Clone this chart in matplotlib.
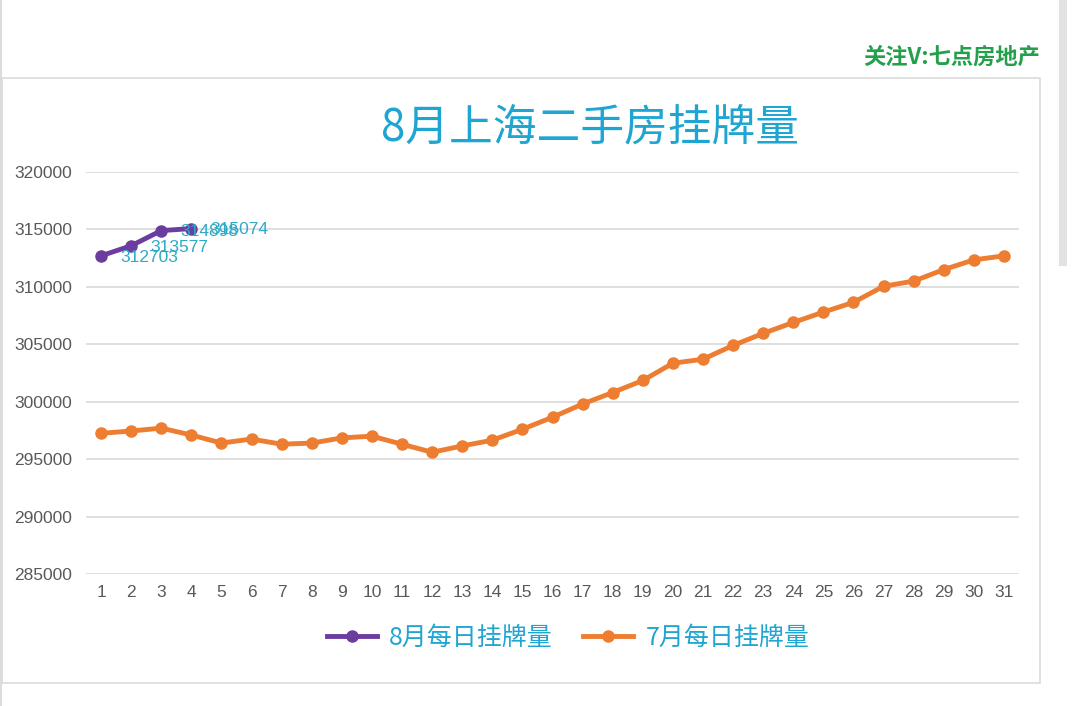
import numpy as np
import matplotlib
matplotlib.use("Agg")
import matplotlib.pyplot as plt
from matplotlib.lines import Line2D
from matplotlib.patches import Rectangle

plt.rcParams["font.family"] = ["Liberation Sans", "Noto Sans CJK SC", "DejaVu Sans"]

# ---------------------------------------------------------------------------
# Data
# ---------------------------------------------------------------------------
days_aug = [1, 2, 3, 4]
listings_aug = [312703, 313577, 314898, 315074]

days_jul = list(range(1, 32))
listings_jul = [
    297250, 297450, 297700, 297100, 296400, 296750, 296300, 296400, 296850, 297000,
    296300, 295600, 296150, 296650, 297600, 298650, 299800, 300800, 301850, 303350,
    303700, 304900, 305950, 306900, 307800, 308650, 310050, 310500, 311500, 312350,
    312700,
]

y_ticks = [285000, 290000, 295000, 300000, 305000, 310000, 315000, 320000]

title = "8月上海二手房挂牌量"
label_aug = "8月每日挂牌量"
label_jul = "7月每日挂牌量"
watermark = "关注V:七点房地产"

PURPLE = "#6a3d9e"
ORANGE = "#ed7d31"
CYAN = "#1ea5d2"
LABEL_CYAN = "#2eaac6"
GRID = "#d9d9d9"
TICK = "#595959"
CJK = ["Noto Sans CJK SC", "DejaVu Sans"]

W, H = 1080, 706
fig = plt.figure(figsize=(W / 100, H / 100), dpi=100)
fig.patch.set_facecolor("white")

# page chrome: chart frame, left page edge and scrollbar
fig.add_artist(Rectangle((2 / W, 1 - 683 / H), 1038 / W, 605 / H,
                         transform=fig.transFigure, facecolor="none",
                         edgecolor="#dcdcdc", linewidth=1.2))
fig.add_artist(Line2D([1 / W, 1 / W], [0, 1], transform=fig.transFigure,
                      color="#dcdcdc", linewidth=1.5))
fig.add_artist(Rectangle((1059 / W, 1 - 266 / H), 8 / W, 266 / H,
                         transform=fig.transFigure, facecolor="#e2e2e2",
                         edgecolor="none"))

fig.text(1040 / W, 1 - 57 / H, watermark, family=CJK, fontsize=16,
         fontweight="bold", color="#22a04b", ha="right", va="center")
fig.text(590 / W, 1 - 128 / H, title, family=CJK, fontsize=31.5,
         color=CYAN, ha="center", va="center")

# ---------------------------------------------------------------------------
# Plot area
# ---------------------------------------------------------------------------
ax = fig.add_axes([86 / W, 1 - 574 / H, (1019 - 86) / W, (574 - 172) / H])
ax.set_xlim(0.5, 31.5)
ax.set_ylim(285000, 320000)

ax.plot(days_jul, listings_jul, color=ORANGE, linewidth=3.5, marker="o",
        markersize=8, label=label_jul, zorder=3)
ax.plot(days_aug, listings_aug, color=PURPLE, linewidth=3.5, marker="o",
        markersize=8, label=label_aug, zorder=4)

# data labels for August (they overlap in the original too)
for d, v in zip(days_aug, listings_aug):
    ax.annotate(f"{v}", (d, v), xytext=(14, -1), textcoords="offset points",
                ha="left", va="center", fontsize=12.5, color=LABEL_CYAN, zorder=5)

ax.set_yticks(y_ticks)
ax.set_yticklabels([str(t) for t in y_ticks])
ax.set_xticks(days_jul)
ax.set_xticklabels([str(d) for d in days_jul])
ax.tick_params(axis="both", length=0, labelsize=12.5, labelcolor=TICK)
ax.tick_params(axis="y", pad=10)
ax.tick_params(axis="x", pad=8)
ax.grid(axis="y", color=GRID, linewidth=1.2)
ax.set_axisbelow(True)
for s in ax.spines.values():
    s.set_visible(False)

handles = [
    Line2D([], [], color=PURPLE, linewidth=3.5, marker="o", markersize=8),
    Line2D([], [], color=ORANGE, linewidth=3.5, marker="o", markersize=8),
]
leg = fig.legend(handles, [label_aug, label_jul], loc="center",
                 bbox_to_anchor=(568 / W, 1 - 638 / H), ncol=2, frameon=False,
                 prop={"family": CJK, "size": 18}, handlelength=2.0,
                 handletextpad=0.5, columnspacing=1.2)
for t in leg.get_texts():
    t.set_color(CYAN)

fig.savefig("out.png", dpi=100, facecolor="white")
